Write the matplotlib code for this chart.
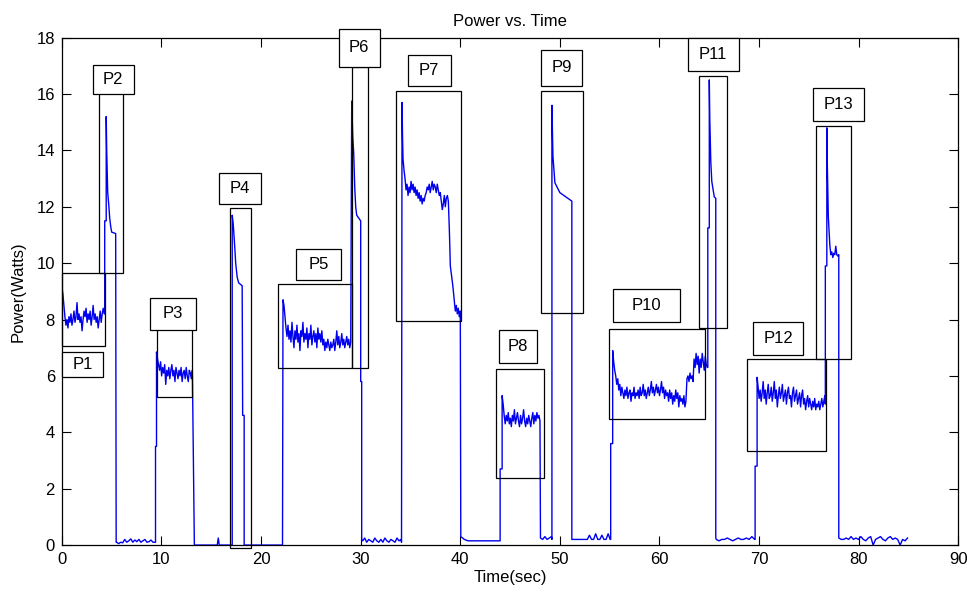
import numpy as np
import matplotlib
matplotlib.use("Agg")
import matplotlib.pyplot as plt
from matplotlib.patches import Rectangle

plt.rcParams['font.family'] = ['Liberation Sans', 'DejaVu Sans']

# ---- signal: noisy plateaus (start, end) + values ----
p1_span = (0.0, 4.25)
p1_vals = [9.15, 8.9, 8.5, 8.1, 7.8, 8.0, 7.7, 8.1, 7.9, 8.2, 7.8, 8.0, 8.3, 7.9, 8.1,
           8.6, 8.0, 8.2, 7.9, 8.1, 7.6, 8.0, 8.3, 8.1, 8.4, 7.9, 8.2, 8.0, 8.3, 7.8,
           8.1, 8.5, 8.0, 8.2, 7.9, 8.1, 7.7, 8.0, 8.3, 7.9, 8.2, 8.4, 8.2]
p2_edges = [(4.3, 8.2), (4.3, 11.5), (4.45, 11.5), (4.45, 15.2), (4.5, 14.0),
            (4.55, 13.2), (4.6, 12.5), (4.7, 12.1), (4.8, 11.6), (4.9, 11.3),
            (5.0, 11.1), (5.4, 11.05), (5.45, 0.1)]
base1_span = (5.5, 9.35)
base1_vals = [0.1, 0.05, 0.1, 0.08, 0.2, 0.1, 0.15, 0.22, 0.1, 0.18, 0.12, 0.2,
              0.1, 0.15, 0.2, 0.1, 0.12, 0.18, 0.1, 0.1]
p3_edges = [(9.4, 0.1), (9.4, 3.5), (9.5, 3.5)]
p3_span = (9.5, 13.1)
p3_vals = [6.85, 6.6, 6.4, 6.2, 6.5, 6.0, 6.3, 6.1, 6.4, 5.7, 6.2, 6.0, 6.3, 5.9,
           6.2, 6.4, 6.0, 6.2, 5.8, 6.3, 6.1, 5.9, 6.2, 6.0, 6.3, 5.8, 6.1, 6.2,
           5.9, 6.3, 6.0, 5.8, 6.2, 6.1, 5.9, 6.2]
p4_edges = [(13.3, 0.0), (15.6, 0.0), (15.7, 0.25), (15.8, 0.0), (17.1, 0.0),
            (17.1, 11.7), (17.2, 11.4), (17.35, 10.6), (17.45, 10.0), (17.6, 9.5),
            (17.75, 9.3), (18.1, 9.2), (18.15, 4.6), (18.3, 4.6), (18.3, 0.0),
            (22.15, 0.0)]
p5_span = (22.2, 29.0)
p5_vals = [8.7, 8.5, 8.1, 7.7, 7.4, 7.8, 7.3, 7.6, 7.2, 7.9, 7.4, 7.0, 7.6, 7.3,
           7.8, 7.2, 7.5, 6.9, 7.6, 7.4, 7.9, 7.2, 7.5, 7.3, 7.7, 7.0, 7.5, 7.3,
           7.8, 7.1, 7.4, 7.6, 7.2, 7.5, 7.0, 7.7, 7.3, 7.5, 7.2, 7.6, 7.1, 7.3,
           6.9, 7.2, 7.0, 7.3, 7.1, 6.9, 7.2, 7.0, 7.1, 7.3, 6.9, 7.2, 7.6, 7.1,
           7.4, 7.0, 7.2, 7.5, 7.1, 7.3, 7.0, 7.2, 7.4, 7.1, 7.3, 7.0, 7.2]
p6_edges = [(29.1, 15.75), (29.2, 14.5), (29.3, 13.9), (29.4, 12.7), (29.5, 12.0),
            (29.6, 11.7), (30.0, 11.5), (30.0, 5.8), (30.1, 5.8), (30.1, 0.2)]
base2_span = (30.2, 34.05)
base2_vals = [0.15, 0.25, 0.1, 0.2, 0.15, 0.1, 0.25, 0.15, 0.1, 0.2, 0.1, 0.25,
              0.15, 0.1, 0.2, 0.15, 0.1, 0.25, 0.15, 0.2]
p7_edges = [(34.1, 0.1), (34.15, 15.7), (34.2, 14.5), (34.25, 13.7)]
p7_span = (34.35, 38.8)
p7_vals = [13.3, 13.0, 12.6, 12.8, 12.4, 12.7, 12.5, 12.9, 12.6, 12.8, 12.5, 12.7,
           12.4, 12.6, 12.3, 12.5, 12.2, 12.4, 12.1, 12.3, 12.2, 12.4, 12.5, 12.7,
           12.6, 12.8, 12.5, 12.7, 12.9, 12.6, 12.8, 12.7, 12.5, 12.8, 12.6, 12.4,
           12.5, 12.2, 11.9, 12.1, 12.4, 12.0, 12.3, 12.4, 12.2]
p7_fall = [(38.9, 11.2), (39.0, 9.9), (39.25, 9.2), (39.45, 8.45)]
p7_tail_span = (39.5, 40.0)
p7_tail_vals = [8.3, 8.5, 8.2, 8.4, 8.1, 8.3]
base3_span = (40.05, 44.0)
base3_vals = [0.3, 0.2, 0.15, 0.15, 0.15, 0.15, 0.15, 0.15, 0.15, 0.15, 0.15, 0.15]
p8_edges = [(44.0, 2.7), (44.2, 2.7)]
p8_span = (44.2, 48.0)
p8_vals = [5.3, 5.0, 4.6, 4.3, 4.6, 4.4, 4.7, 4.3, 4.5, 4.2, 4.6, 4.4, 4.8, 4.3,
           4.5, 4.7, 4.4, 4.2, 4.6, 4.3, 4.5, 4.8, 4.4, 4.2, 4.5, 4.3, 4.6, 4.4,
           4.2, 4.5, 4.7, 4.3, 4.6, 4.4, 4.7, 4.5, 4.6, 4.4]
base4_span = (48.05, 49.15)
base4_vals = [0.25, 0.2, 0.3, 0.2, 0.25, 0.3]
p9_edges = [(49.2, 0.2), (49.2, 15.6), (49.3, 13.8), (49.5, 12.85), (50.0, 12.5),
            (50.4, 12.4), (50.8, 12.3), (51.2, 12.2), (51.2, 0.2)]
base5_span = (51.3, 55.05)
base5_vals = [0.2, 0.2, 0.2, 0.2, 0.2, 0.2, 0.2, 0.2, 0.35, 0.2, 0.2, 0.4, 0.2,
              0.2, 0.35, 0.2, 0.2, 0.4, 0.2]
p10_edges = [(55.1, 0.2), (55.1, 3.6), (55.3, 3.6)]
p10_span = (55.3, 64.8)
p10_vals = [6.9, 6.5, 6.2, 6.0, 5.7, 5.9, 5.5, 5.7, 5.3, 5.6, 5.4, 5.2, 5.5, 5.3,
            5.6, 5.2, 5.4, 5.5, 5.1, 5.4, 5.3, 5.6, 5.2, 5.4, 5.3, 5.5, 5.2, 5.6,
            5.3, 5.4, 5.7, 5.3, 5.5, 5.2, 5.4, 5.6, 5.3, 5.5, 5.8, 5.4, 5.6, 5.3,
            5.5, 5.7, 5.4, 5.6, 5.3, 5.5, 5.8, 5.4, 5.6, 5.2, 5.5, 5.3, 5.4, 5.1,
            5.5, 5.2, 5.4, 5.0, 5.3, 5.1, 5.5, 5.2, 5.4, 4.9, 5.3, 5.1, 5.2, 5.0,
            5.3, 4.9, 5.1, 5.9, 6.0, 5.8, 6.1, 5.9, 6.0, 5.8, 6.6, 6.3, 6.8, 6.4,
            6.7, 6.1, 6.6, 6.3, 6.8, 6.5, 6.2, 6.7, 6.4, 6.3]
p11_edges = [(64.85, 6.3), (64.85, 11.25), (65.0, 11.25), (65.0, 16.5), (65.05, 15.1),
             (65.15, 13.6), (65.25, 12.9), (65.5, 12.35), (65.65, 12.3), (65.65, 0.25)]
base6_span = (65.7, 69.55)
base6_vals = [0.2, 0.15, 0.2, 0.2, 0.25, 0.2, 0.15, 0.2, 0.25, 0.2, 0.2, 0.25,
              0.2, 0.3, 0.2]
p12_edges = [(69.6, 0.2), (69.6, 2.8), (69.8, 2.8)]
p12_span = (69.8, 76.6)
p12_vals = [5.95, 5.6, 5.2, 5.5, 5.1, 5.4, 5.8, 5.2, 5.5, 5.0, 5.4, 5.7, 5.2, 5.3,
            5.6, 5.1, 5.4, 5.8, 5.2, 5.5, 4.9, 5.3, 5.6, 5.2, 5.4, 5.7, 5.1, 5.3,
            5.5, 5.0, 5.4, 5.6, 5.2, 5.3, 4.9, 5.4, 5.6, 5.1, 5.3, 5.5, 5.0, 5.2,
            5.4, 4.9, 5.3, 5.5, 5.0, 5.2, 4.8, 5.1, 5.3, 4.9, 5.2, 5.0, 4.8, 5.1,
            4.9, 5.2, 4.8, 5.0, 4.9, 5.1, 4.8, 5.0, 5.2, 4.9, 5.1, 5.3]
p13_edges = [(76.65, 5.0), (76.65, 9.9), (76.8, 9.9), (76.8, 14.8), (76.85, 13.5),
             (76.95, 11.65), (77.1, 10.65)]
p13_span = (77.2, 78.0)
p13_vals = [10.3, 10.4, 10.2, 10.35, 10.3, 10.6, 10.3, 10.25, 10.3]
base7_span = (78.0, 84.9)
base7_vals = [0.25, 0.2, 0.2, 0.25, 0.2, 0.3, 0.2, 0.25, 0.2, 0.3, 0.2, 0.15,
              0.25, 0.3, 0.0, 0.2, 0.25, 0.3, 0.2, 0.15, 0.25, 0.3, 0.2, 0.25,
              0.2, 0.0, 0.2, 0.15, 0.25]

# ---- marked regions: label, data box (x0, x1, y0, y1), label box (x0, x1, y0, y1) ----
labels = ['P1', 'P2', 'P3', 'P4', 'P5', 'P6', 'P7', 'P8', 'P9', 'P10', 'P11', 'P12', 'P13']
data_boxes = [(0.0, 4.3, 7.05, 9.65), (3.7, 6.1, 9.65, 16.05), (9.5, 13.05, 5.25, 7.67),
              (16.85, 19.0, -0.1, 11.96), (21.7, 29.1, 6.28, 9.27), (29.1, 30.7, 6.28, 16.97),
              (33.5, 40.1, 7.95, 16.1), (43.6, 48.4, 2.38, 6.25), (48.1, 52.3, 8.24, 16.1),
              (54.9, 64.55, 4.47, 7.67), (63.95, 66.75, 7.7, 16.65), (68.8, 76.7, 3.34, 6.6),
              (75.7, 79.2, 6.6, 14.87)]
label_boxes = [(0.05, 4.15, 5.96, 6.85), (3.1, 7.2, 16.01, 17.04), (8.8, 13.45, 7.63, 8.77),
               (15.75, 20.0, 12.1, 13.2), (23.5, 28.0, 9.4, 10.5), (27.8, 31.9, 16.97, 18.3),
               (34.7, 39.05, 16.3, 17.37), (43.9, 47.7, 6.46, 7.63), (48.1, 52.2, 16.3, 17.57),
               (55.3, 62.1, 7.92, 9.09), (62.85, 67.95, 16.83, 18.0), (69.4, 74.4, 6.74, 7.92),
               (75.4, 80.5, 15.05, 16.2)]


def span(rng, vals):
    t = np.linspace(rng[0], rng[1], len(vals))
    return list(zip(t, vals))


pieces = [span(p1_span, p1_vals), p2_edges, span(base1_span, base1_vals), p3_edges,
          span(p3_span, p3_vals), p4_edges, span(p5_span, p5_vals), p6_edges,
          span(base2_span, base2_vals), p7_edges, span(p7_span, p7_vals), p7_fall,
          span(p7_tail_span, p7_tail_vals), span(base3_span, base3_vals), p8_edges,
          span(p8_span, p8_vals), span(base4_span, base4_vals), p9_edges,
          span(base5_span, base5_vals), p10_edges, span(p10_span, p10_vals), p11_edges,
          span(base6_span, base6_vals), p12_edges, span(p12_span, p12_vals), p13_edges,
          span(p13_span, p13_vals), span(base7_span, base7_vals)]
pts = [pt for piece in pieces for pt in piece]
time = [p[0] for p in pts]
power = [p[1] for p in pts]

fig = plt.figure(figsize=(9.67, 5.97), dpi=100)
ax = fig.add_axes([0.064, 0.087, 0.927, 0.85])
ax.plot(time, power, color='#0000ee', linewidth=1.0, zorder=3)

for lab, db, lb in zip(labels, data_boxes, label_boxes):
    ax.add_patch(Rectangle((db[0], db[2]), db[1] - db[0], db[3] - db[2], fill=False,
                           edgecolor='black', linewidth=0.9, clip_on=False, zorder=4))
    ax.add_patch(Rectangle((lb[0], lb[2]), lb[1] - lb[0], lb[3] - lb[2], facecolor='white',
                           edgecolor='black', linewidth=0.9, clip_on=False, zorder=5))
    ax.text(0.5 * (lb[0] + lb[1]), 0.5 * (lb[2] + lb[3]), lab, ha='center', va='center',
            fontsize=12, zorder=6, clip_on=False)

ax.set_xlim(0, 90)
ax.set_ylim(0, 18)
ax.set_xticks(range(0, 91, 10))
ax.set_yticks(range(0, 19, 2))
ax.tick_params(direction='in', length=6.5, top=True, right=True, labelsize=12, pad=5)
for s in ax.spines.values():
    s.set_linewidth(0.9)
ax.set_title('Power vs. Time', fontsize=12, pad=8)
ax.set_xlabel('Time(sec)', fontsize=12, labelpad=2)
ax.set_ylabel('Power(Watts)', fontsize=12, labelpad=8)

fig.savefig('out.png', dpi=100)
